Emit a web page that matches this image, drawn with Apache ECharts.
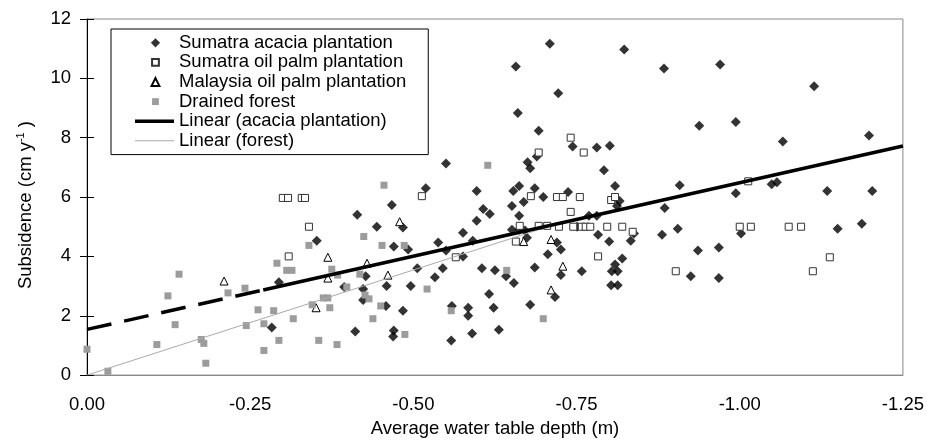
<!DOCTYPE html>
<html>
<head>
<meta charset="utf-8">
<script src="https://cdn.jsdelivr.net/npm/echarts@6/dist/echarts.min.js"></script>
<style>
  html, body { margin: 0; padding: 0; background: #fff; }
  #main { width: 927px; height: 443px; }
</style>
</head>
<body>
<div id="main"></div>
<script>
// 数据：x 为平均水位深度 (m)，y 为沉降 (cm/y)
var acacia = [
  [-0.550, 7.13], [-0.519, 6.30], [-0.597, 6.20], [-0.709, 11.17], [-0.823, 10.97],
  [-0.657, 10.40], [-0.884, 10.33], [-0.722, 9.50], [-0.660, 8.83], [-0.692, 8.23],
  [-0.744, 7.70], [-0.781, 7.67], [-0.801, 7.73], [-0.689, 7.37], [-0.675, 7.17],
  [-0.679, 6.97], [-0.792, 6.90], [-0.809, 6.37], [-0.908, 6.40], [-0.938, 8.40],
  [-0.653, 6.20], [-0.662, 6.37], [-0.686, 6.30], [-0.699, 6.00], [-0.737, 6.17],
  [-0.816, 5.87], [-0.651, 5.70], [-0.669, 5.83], [-0.607, 5.60], [-0.617, 5.43],
  [-0.662, 5.37], [-0.769, 5.37], [-0.781, 5.37], [-0.812, 5.70], [-0.885, 5.63],
  [-0.651, 4.90], [-0.662, 4.90], [-0.671, 4.87], [-0.751, 5.00], [-0.905, 4.93],
  [-0.838, 4.77], [-0.783, 4.73], [-0.881, 4.73], [-0.833, 4.53], [-0.800, 4.50],
  [-0.674, 4.63], [-0.720, 4.47], [-0.726, 4.23], [-0.706, 4.07], [-0.820, 3.93],
  [-0.809, 3.73], [-0.804, 3.50], [-0.813, 3.50], [-0.726, 3.37], [-0.686, 3.63],
  [-0.758, 3.50], [-0.642, 3.33], [-0.625, 3.53], [-0.605, 3.60], [-0.654, 3.10],
  [-0.803, 3.03], [-0.813, 3.03], [-0.925, 3.33], [-0.936, 4.20], [-0.717, 2.63],
  [-0.616, 2.73], [-0.679, 2.37], [-0.623, 2.27], [-0.631, 1.53], [-0.994, 6.13],
  [-1.049, 6.43], [-1.057, 6.50], [-1.134, 6.20], [-1.203, 6.20], [-1.002, 4.77],
  [-1.150, 4.93], [-1.187, 5.10], [-0.968, 4.30], [-0.968, 3.27], [-0.970, 10.47],
  [-1.114, 9.73], [-0.994, 8.53], [-1.066, 7.87], [-1.198, 8.07], [-0.467, 5.73],
  [-0.414, 5.40], [-0.597, 5.20], [-0.444, 5.00], [-0.484, 4.97], [-0.576, 4.80],
  [-0.352, 4.53], [-0.470, 4.33], [-0.492, 4.23], [-0.538, 4.47], [-0.591, 4.53],
  [-0.550, 4.20], [-0.576, 4.00], [-0.506, 3.60], [-0.545, 3.60], [-0.427, 3.33],
  [-0.533, 3.30], [-0.294, 3.13], [-0.394, 2.97], [-0.423, 2.90], [-0.459, 3.00],
  [-0.496, 3.00], [-0.423, 2.53], [-0.458, 2.33], [-0.484, 2.17], [-0.559, 2.33],
  [-0.584, 2.27], [-0.584, 2.00], [-0.411, 1.47], [-0.470, 1.50], [-0.469, 1.30],
  [-0.590, 1.40], [-0.558, 1.17], [-0.283, 1.60]
];

var sumatraPalm = [
  [-0.300, 5.97], [-0.308, 5.97], [-0.329, 5.97], [-0.334, 5.97], [-0.309, 4.00],
  [-0.340, 5.00], [-0.513, 6.03], [-0.565, 3.97], [-0.741, 8.00], [-0.761, 7.50],
  [-0.692, 7.50], [-0.680, 6.03], [-0.720, 6.00], [-0.729, 6.00], [-0.755, 6.00],
  [-0.803, 5.90], [-0.809, 6.00], [-0.741, 5.50], [-0.663, 5.03], [-0.692, 5.03],
  [-0.705, 5.03], [-0.723, 5.00], [-0.745, 5.00], [-0.758, 5.00], [-0.764, 5.00],
  [-0.771, 5.00], [-0.797, 5.00], [-0.820, 5.00], [-0.836, 4.83], [-0.657, 4.50],
  [-0.783, 4.00], [-0.902, 3.50], [-1.013, 6.53], [-1.000, 5.00], [-1.017, 5.00],
  [-1.075, 5.00], [-1.094, 5.00], [-1.138, 3.97], [-1.112, 3.50]
];

var malaysiaPalm = [
  [-0.210, 3.17], [-0.369, 3.97], [-0.429, 3.77], [-0.461, 3.37], [-0.369, 3.27],
  [-0.351, 2.27], [-0.479, 5.17], [-0.669, 4.50], [-0.711, 4.57], [-0.729, 3.67],
  [-0.711, 2.87]
];

var forest = [
  [-0.455, 6.40], [-0.614, 7.07], [-0.291, 3.77], [-0.306, 3.53], [-0.314, 3.53],
  [-0.141, 3.40], [-0.124, 2.67], [-0.216, 2.77], [-0.242, 2.93], [-0.262, 2.20],
  [-0.286, 2.17], [-0.271, 1.73], [-0.316, 1.90], [-0.135, 1.70], [-0.244, 1.67],
  [-0.294, 1.17], [-0.271, 0.83], [-0.107, 1.03], [-0.175, 1.20], [-0.179, 1.07],
  [-0.182, 0.40], [0.000, 0.87], [-0.032, 0.13], [-0.424, 4.67], [-0.340, 4.37],
  [-0.452, 4.37], [-0.486, 4.37], [-0.375, 3.57], [-0.384, 3.37], [-0.418, 3.40],
  [-0.398, 2.97], [-0.521, 2.90], [-0.426, 2.70], [-0.432, 2.57], [-0.362, 2.60],
  [-0.369, 2.60], [-0.345, 2.37], [-0.372, 2.27], [-0.450, 2.33], [-0.438, 1.90],
  [-0.558, 2.17], [-0.487, 1.37], [-0.355, 1.17], [-0.383, 1.03], [-0.643, 3.53],
  [-0.699, 1.90]
];

// 趋势线
var acaciaFitDashed = [[0, 1.54], [-0.27, 2.87]];
var acaciaFitSolid = [[-0.27, 2.87], [-1.25, 7.72]];
var forestFit = [[0, 0], [-0.72, 5.1]];

var xTicks = [0, -0.25, -0.5, -0.75, -1.0, -1.25];
var yTicks = [0, 2, 4, 6, 8, 10, 12];

var names = [
  'Sumatra acacia plantation',
  'Sumatra oil palm plantation',
  'Malaysia oil palm plantation',
  'Drained forest',
  'Linear (acacia plantation)',
  'Linear (forest)'
];

var FONT = '"Liberation Sans", Arial, sans-serif';

// 图例图标：在 40x10 的框内画小符号（前两个 M 撑开包围盒）
var ICON_DIAMOND = 'path://M0,0M40,10M21,0.3L25.7,5L21,9.7L16.3,5Z';
var ICON_SQUARE = 'path://M0,0M40,10M17.5,1.5H24.5V8.5H17.5Z';
var ICON_TRIANGLE = 'path://M0,0M40,10M21,1L25,9H17Z';
var ICON_GREY = 'path://M0,0M40,10M17.5,1.5H24.5V8.5H17.5Z';
var ICON_THICK = 'path://M0,0M40,10M0,3.2H40V6.8H0Z';
var ICON_THIN = 'path://M0,0M40,10M0,4.5H40V5.5H0Z';

var myChart = echarts.init(document.getElementById('main'));

option = {
  animation: false,
  textStyle: { fontFamily: FONT, color: '#000' },
  grid: {
    left: 87, right: 24, top: 19, bottom: 64,
    show: true, borderColor: '#888', borderWidth: 1
  },
  legend: {
    orient: 'vertical',
    left: 111, top: 29,
    padding: [4, 22, 4, 23],
    borderColor: '#000', borderWidth: 1,
    itemWidth: 39, itemHeight: 10, itemGap: 0,
    textStyle: { fontFamily: FONT, fontSize: 18.5, lineHeight: 19.6, color: '#000' },
    data: [
      { name: names[0], icon: ICON_DIAMOND },
      { name: names[1], icon: ICON_SQUARE },
      { name: names[2], icon: ICON_TRIANGLE },
      { name: names[3], icon: ICON_GREY },
      { name: names[4], icon: ICON_THICK },
      { name: names[5], icon: ICON_THIN }
    ]
  },
  xAxis: {
    type: 'value',
    min: xTicks[xTicks.length - 1], max: xTicks[0], interval: 0.25,
    inverse: true,
    name: 'Average water table depth (m)',
    nameLocation: 'middle', nameGap: 40,
    nameTextStyle: { fontFamily: FONT, fontSize: 18.5, color: '#000' },
    axisLine: { lineStyle: { color: '#888', width: 1 } },
    axisTick: { show: false },
    axisLabel: {
      margin: 20, fontSize: 18.5, color: '#000', fontFamily: FONT,
      formatter: function (v) { return v.toFixed(2); }
    },
    splitLine: { show: false }
  },
  yAxis: [
    {
      type: 'value',
      min: yTicks[0], max: yTicks[yTicks.length - 1], interval: 2,
      name: '{a|Subsidence (cm y}{s|-1}{a| )}',
      nameLocation: 'middle', nameGap: 50, nameRotate: 90,
      nameTextStyle: {
        padding: [0, 16, 0, 0],
        rich: {
          a: { fontFamily: FONT, fontSize: 18.5, color: '#000', lineHeight: 22 },
          s: { fontFamily: FONT, fontSize: 11, color: '#000', lineHeight: 22, verticalAlign: 'top', padding: [0, 0, 8, 0] }
        }
      },
      axisLine: { show: true, lineStyle: { color: '#000', width: 1 } },
      axisTick: { show: true, length: 7, lineStyle: { color: '#000' } },
      axisLabel: { margin: 16, fontSize: 18.5, color: '#000', fontFamily: FONT },
      splitLine: { show: false }
    },
    {
      type: 'value',
      position: 'left',
      min: yTicks[0], max: yTicks[yTicks.length - 1], interval: 2,
      axisLine: { show: false },
      axisTick: { show: true, inside: true, length: 7, lineStyle: { color: '#000' } },
      axisLabel: { show: false },
      splitLine: { show: false }
    }
  ],
  series: [
    {
      name: names[0], type: 'scatter', data: acacia,
      symbol: 'diamond', symbolSize: 10,
      itemStyle: { color: '#000' }
    },
    {
      name: names[1], type: 'scatter', data: sumatraPalm,
      symbol: 'rect', symbolSize: 7,
      itemStyle: { color: '#fff', borderColor: '#333', borderWidth: 1, opacity: 1 }
    },
    {
      name: names[2], type: 'scatter', data: malaysiaPalm,
      symbol: 'triangle', symbolSize: 8,
      itemStyle: { color: '#fff', borderColor: '#000', borderWidth: 1, opacity: 1 }
    },
    {
      name: names[3], type: 'scatter', data: forest,
      symbol: 'rect', symbolSize: 7,
      itemStyle: { color: '#9c9c9c', opacity: 1 }
    },
    {
      name: names[4], type: 'line', data: acaciaFitSolid,
      symbol: 'none', z: 5,
      itemStyle: { color: '#000' },
      lineStyle: { color: '#000', width: 3.5 }
    },
    {
      name: names[4], type: 'line', data: acaciaFitDashed,
      symbol: 'none', z: 5,
      itemStyle: { color: '#000' },
      lineStyle: { color: '#000', width: 3.5, type: [25, 13] }
    },
    {
      name: names[5], type: 'line', data: forestFit,
      symbol: 'none', z: 4,
      itemStyle: { color: '#aaa' },
      lineStyle: { color: '#aaa', width: 1 }
    }
  ]
};

myChart.setOption(option);
</script>
</body>
</html>
